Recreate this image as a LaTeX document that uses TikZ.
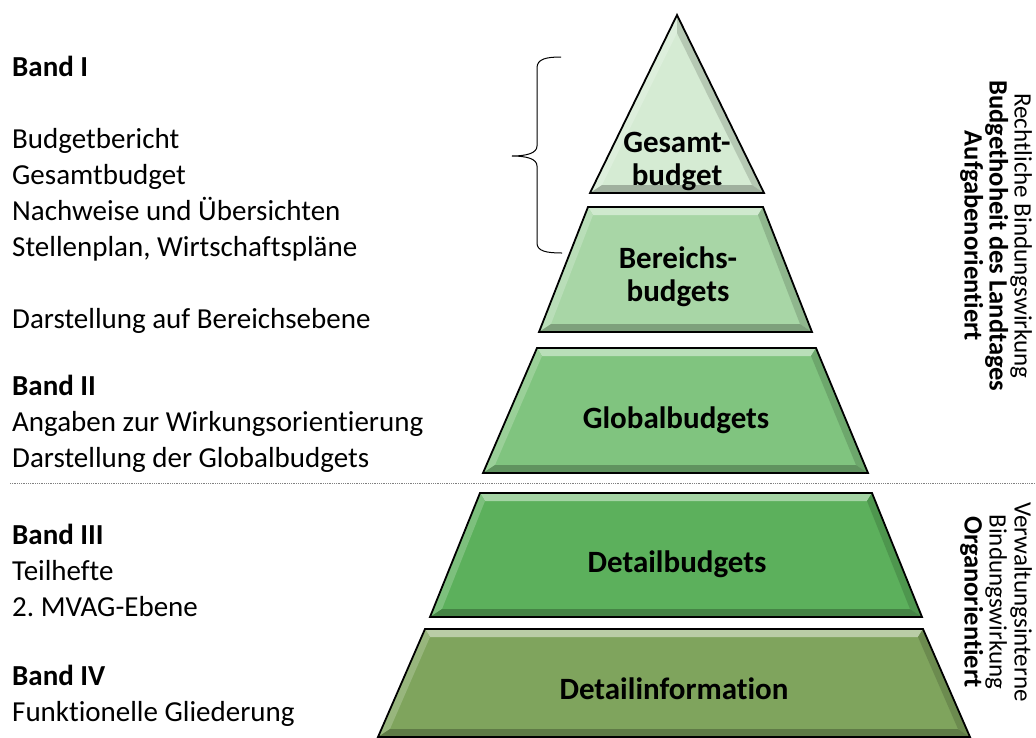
\documentclass[tikz,border=0pt]{standalone}
\usepackage{fontspec}
\setmainfont{Carlito}[Ligatures={NoCommon,NoRare,NoContextual}, Contextuals=NoAlternate]
\frenchspacing
\usetikzlibrary{calc}

\definecolor{gesgreen}{RGB}{213,235,211}
\definecolor{bergreen}{RGB}{168,214,166}
\definecolor{glogreen}{RGB}{128,196,127}
\definecolor{detgreen}{RGB}{92,176,92}
\definecolor{infgreen}{RGB}{127,164,93}

\newcommand\sidebold[1]{{\bfseries\fontsize{26.5}{25}\selectfont #1}}

\tikzset{
  bandtext/.style={anchor=north west, align=left, inner sep=0pt, font=\fontsize{29}{36}\selectfont},
  layertext/.style={align=center, inner sep=0pt, font=\bfseries\fontsize{31}{33}\selectfont},
  sidetext/.style={rotate=-90, align=center, inner sep=0pt, font=\fontsize{25}{25}\selectfont},
  outline/.style={draw=black, line width=1.8pt, line join=miter},
}

\begin{document}
\begin{tikzpicture}[x=1pt, y=-1pt]
\useasboundingbox (0,0) rectangle (1036,737);

% pyramid layers
\foreach \n/\tl/\tr/\bl/\br/\yt/\yb/\ix/\iy/\col in {
    ges/677/677/590/764/15/193/0/18/gesgreen,
    ber/588/763/539/812/207/332/5/8/bergreen,
    glo/537/816/483/868/348/473/5/8/glogreen,
    det/480/872/430/922/493/617/5/8/detgreen,
    inf/425/923/378/970/629/737/5/8/infgreen} {
  \coordinate (\n-tl) at (\tl,\yt);
  \coordinate (\n-tr) at (\tr,\yt);
  \coordinate (\n-bl) at (\bl,\yb);
  \coordinate (\n-br) at (\br,\yb);
  \coordinate (\n-itl) at (\tl+\ix,\yt+\iy);
  \coordinate (\n-itr) at (\tr-\ix,\yt+\iy);
  \coordinate (\n-ibl) at (\bl+12,\yb-8);
  \coordinate (\n-ibr) at (\br-12,\yb-8);
  \fill[\col] (\n-tl) -- (\n-tr) -- (\n-br) -- (\n-bl) -- cycle;
  \fill[\col!55!white] (\n-tl) -- (\n-tr) -- (\n-itr) -- (\n-itl) -- cycle;
  \fill[\col!80!white] (\n-tl) -- (\n-itl) -- (\n-ibl) -- (\n-bl) -- cycle;
  \fill[\col!85!black] (\n-tr) -- (\n-br) -- (\n-ibr) -- (\n-itr) -- cycle;
  \fill[\col!75!black] (\n-bl) -- (\n-br) -- (\n-ibr) -- (\n-ibl) -- cycle;
  \draw[outline] (\n-tl) -- (\n-tr) -- (\n-br) -- (\n-bl) -- cycle;
}

\node[layertext] (gesamt) at (677,161) {Gesamt-\\budget};
\node[layertext] (bereich) at (678,277) {Bereichs-\\budgets};
\node[layertext] (global) at (676,420) {Globalbudgets};
\node[layertext] (detail) at (677,564) {Detailbudgets};
\node[layertext] (info) at (674,689) {Detailinformation};

% left column
\node[bandtext] (band1) at (12,56) {\textbf{Band I}\\[36pt]Budgetbericht\\Gesamtbudget\\Nachweise und Übersichten\\Stellenplan, Wirtschaftspläne\\[36pt]Darstellung auf Bereichsebene};
\node[bandtext] (band2) at (12,375) {\textbf{Band II}\\Angaben zur Wirkungsorientierung\\Darstellung der Globalbudgets};
\node[bandtext] (band3) at (12,524) {\textbf{Band III}\\Teilhefte\\2. MVAG-Ebene};
\node[bandtext] (band4) at (12,665) {\textbf{Band IV}\\Funktionelle Gliederung};

% right side
\node[sidetext] (recht) at (996,236) {Rechtliche Bindungswirkung\\\sidebold{Budgethoheit des Landtages}\\\sidebold{Aufgabenorientiert}};
\node[sidetext] (organ) at (996,602) {Verwaltungsinterne\\Bindungswirkung\\\sidebold{Organorientiert}};

% brace and separator
\draw[line width=1pt] (561,57) .. controls (546,57) and (537,59) .. (537,68) -- (537,146)
  .. controls (537,153) and (527,156) .. (512,156) .. controls (527,156) and (537,159) .. (537,166)
  -- (537,243) .. controls (537,251) and (546,253) .. (562,253);
\draw[densely dotted, gray, line width=0.8pt] (10,483) -- (1036,483);

\end{tikzpicture}
\end{document}
